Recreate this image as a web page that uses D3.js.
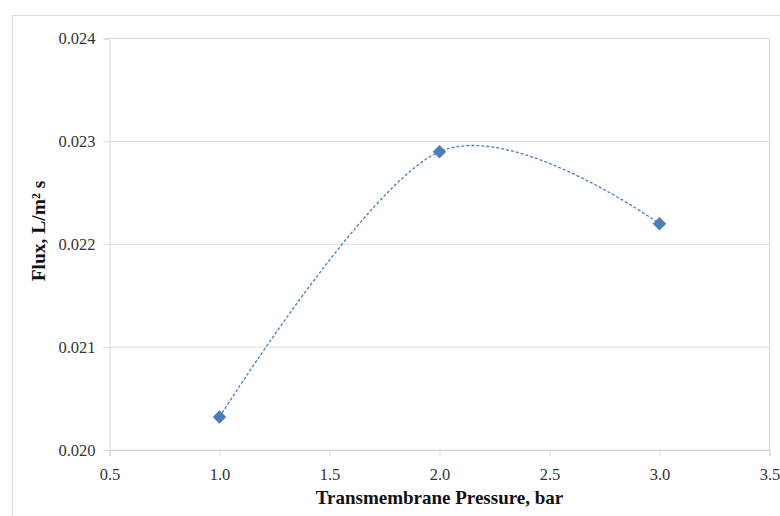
<!DOCTYPE html>
<html lang="en">
<head>
  <meta charset="UTF-8">
  <title>Flux vs Transmembrane Pressure</title>
  <script src="https://d3js.org/d3.v7.min.js"></script>
  <style>
    body { margin: 0; background: #fff; }
    text { font-family: "Liberation Serif", "DejaVu Serif", serif; fill: #333; }
    .axis-title { font-weight: bold; fill: #111; }
  </style>
</head>
<body>
<svg width="780" height="516"></svg>

<script>
  // data
  const pressure = [1.0, 2.0, 3.0];
  const flux = [0.02032, 0.0229, 0.0222];
  const xTicks = [0.5, 1.0, 1.5, 2.0, 2.5, 3.0, 3.5];
  const yTicks = [0.020, 0.021, 0.022, 0.023, 0.024];

  const svg = d3.select("svg");

  // outer chart frame (runs past the window on right/bottom)
  svg.append("rect")
    .attr("x", 12.5).attr("y", 15.5)
    .attr("width", 800).attr("height", 600)
    .attr("fill", "none").attr("stroke", "#d9d9d9");

  const pl = 109.5, pr = 769.5, pt = 38.5, pb = 450;

  const x = d3.scaleLinear().domain([0.5, 3.5]).range([pl, pr]);
  const y = d3.scaleLinear().domain([0.020, 0.024]).range([pb, pt]);

  // horizontal gridlines
  svg.append("g")
    .selectAll("line")
    .data(yTicks)
    .join("line")
    .attr("x1", pl).attr("x2", pr)
    .attr("y1", d => y(d)).attr("y2", d => y(d))
    .attr("stroke", "#d9d9d9");

  // right edge line
  svg.append("line")
    .attr("x1", pr).attr("x2", pr)
    .attr("y1", pt).attr("y2", pb)
    .attr("stroke", "#d9d9d9");

  // y axis
  const yAxis = svg.append("g")
    .attr("transform", `translate(${pl},0)`)
    .call(d3.axisLeft(y).tickValues(yTicks).tickFormat(d3.format(".3f")).tickSize(6).tickPadding(8));
  yAxis.select(".domain").attr("stroke", "#d9d9d9");
  yAxis.selectAll(".tick line").attr("stroke", "#d9d9d9");
  yAxis.selectAll(".tick text")
    .attr("font-size", 16.5)
    .attr("font-family", "Liberation Serif, serif")
    .attr("fill", "#404040");

  // x axis
  const xAxis = svg.append("g")
    .attr("transform", `translate(0,${pb})`)
    .call(d3.axisBottom(x).tickValues(xTicks).tickFormat(d3.format(".1f")).tickSize(6).tickPadding(12));
  xAxis.select(".domain").attr("stroke", "#d9d9d9");
  xAxis.selectAll(".tick line").attr("stroke", "#d9d9d9");
  xAxis.selectAll(".tick text")
    .attr("font-size", 16.5)
    .attr("font-family", "Liberation Serif, serif")
    .attr("fill", "#404040");

  // smoothed dashed line
  const pts = pressure.map((p, i) => [p, flux[i]]);
  const line = d3.line()
    .x(d => x(d[0]))
    .y(d => y(d[1]))
    .curve(d3.curveCardinal.tension(0));

  svg.append("path")
    .datum(pts)
    .attr("d", line)
    .attr("fill", "none")
    .attr("stroke", "#4a7ebb")
    .attr("stroke-width", 1.3)
    .attr("stroke-dasharray", "3,2");

  // diamond markers
  svg.append("g")
    .selectAll("path")
    .data(pts)
    .join("path")
    .attr("transform", d => `translate(${x(d[0])},${y(d[1])})`)
    .attr("d", "M0,-6.5L6.5,0L0,6.5L-6.5,0Z")
    .attr("fill", "#4a7ebb")
    .attr("stroke", "#4a7ebb")
    .attr("stroke-width", 0.5);

  // axis titles
  svg.append("text")
    .attr("class", "axis-title")
    .attr("x", (pl + pr) / 2)
    .attr("y", 504)
    .attr("text-anchor", "middle")
    .attr("font-size", 19)
    .text("Transmembrane Pressure, bar");

  svg.append("text")
    .attr("class", "axis-title")
    .attr("transform", "translate(45,231) rotate(-90)")
    .attr("text-anchor", "middle")
    .attr("font-size", 19.5)
    .text("Flux, L/m² s");
</script>
</body>
</html>
